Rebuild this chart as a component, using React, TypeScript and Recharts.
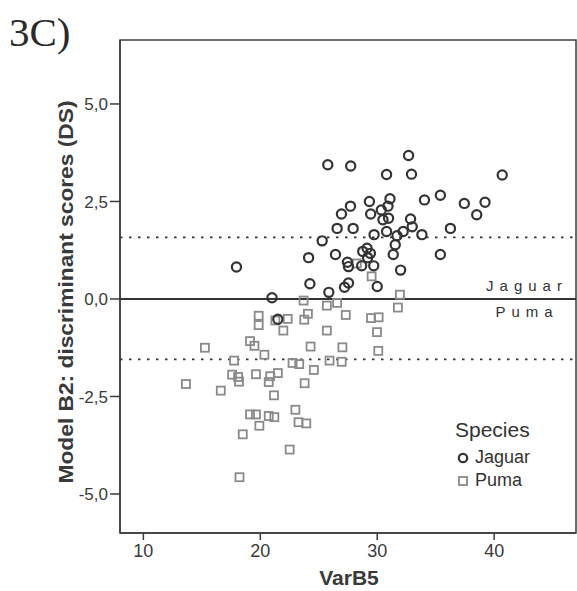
import {
  ScatterChart,
  Scatter,
  XAxis,
  YAxis,
  ReferenceLine,
  ReferenceArea,
  Legend,
  Label,
} from "recharts";

const jaguarX = [
  17.96, 21.0, 24.13, 24.24, 25.29, 25.77, 25.86, 26.43, 26.57, 26.94, 27.2, 27.54, 27.45, 27.54, 27.71,
  27.73, 27.94, 28.67, 28.76, 29.13, 29.33, 29.44, 29.41, 29.18, 29.7, 29.73, 30.0, 30.35, 30.49, 30.8,
  30.8, 30.92, 30.97, 31.09, 31.37, 31.54, 31.69, 32.0, 32.22, 32.68, 32.85, 32.93, 32.99, 33.82, 34.04,
  35.4, 35.4, 36.26, 37.45, 38.51, 39.22, 40.69, 21.5,
];
const jaguarY = [
  0.82, 0.03, 1.06, 0.39, 1.49, 3.44, 0.17, 1.14, 1.81, 2.18, 0.3, 0.41, 0.94, 0.83, 2.38,
  3.41, 1.81, 0.85, 1.22, 1.3, 2.5, 2.18, 1.17, 1.06, 0.85, 1.65, 0.32, 2.28, 2.03, 3.19,
  1.73, 2.38, 2.07, 2.57, 1.14, 1.39, 1.62, 0.74, 1.73, 3.68, 2.05, 3.2, 1.85, 1.65, 2.54,
  2.66, 1.14, 1.81, 2.45, 2.16, 2.48, 3.18, -0.52,
];

const pumaX = [
  23.7, 25.69, 26.57, 31.77, 19.86, 19.86, 21.29, 22.34, 21.97, 23.76, 24.07, 27.31, 29.47, 30.12,
  29.98, 25.69, 15.26, 19.12, 19.5, 20.35, 24.3, 27.02, 30.09, 17.76, 22.76, 23.33, 25.92, 26.96,
  24.58, 17.59, 18.18, 18.1, 19.63, 20.72, 20.85, 21.5, 13.64, 16.62, 23.79, 21.17, 19.12, 19.63,
  20.72, 21.2, 19.92, 23.0, 23.27, 23.93, 18.5, 22.51, 18.22, 29.52, 28.25, 31.94,
];
const pumaY = [
  -0.04, -0.17, -0.1, -0.22, -0.43, -0.67, -0.55, -0.51, -0.81, -0.53, -0.38, -0.41, -0.49, -0.47,
  -0.85, -0.81, -1.25, -1.08, -1.2, -1.43, -1.22, -1.24, -1.33, -1.58, -1.64, -1.67, -1.58, -1.61,
  -1.82, -1.94, -2.12, -2.0, -1.93, -2.13, -1.98, -1.9, -2.18, -2.35, -2.16, -2.47, -2.96, -2.96,
  -3.0, -3.03, -3.25, -2.84, -3.16, -3.19, -3.47, -3.86, -4.57, 0.58, 0.91, 0.11,
];

const xTicks = [10, 20, 30, 40];
const yTicks = [-5, -2.5, 0, 2.5, 5];
const cutoffs = [1.58, -1.55];

const jaguar = jaguarX.map((x, i) => ({ x, y: jaguarY[i] }));
const puma = pumaX.map((x, i) => ({ x, y: pumaY[i] }));

const AXIS = "#3c3c3c";
const SANS = "'Liberation Sans', Arial, sans-serif";

const CircleDot = (props: any) => (
  <circle cx={props.cx} cy={props.cy} r={4.6} fill="none" stroke="#333" strokeWidth={2.2} />
);
const SquareDot = (props: any) => (
  <rect x={props.cx - 4} y={props.cy - 4} width={8} height={8} fill="none" stroke="#8a8a8a" strokeWidth={1.8} />
);

const LegendBox = () => (
  <div style={{ fontFamily: SANS, color: "#333" }}>
    <div style={{ fontSize: 21, marginBottom: 4 }}>Species</div>
    <div style={{ display: "flex", alignItems: "center", fontSize: 18, height: 23 }}>
      <svg width={18} height={14}>
        <circle cx={8} cy={7} r={4.2} fill="none" stroke="#333" strokeWidth={2.2} />
      </svg>
      <span style={{ marginLeft: 2 }}>Jaguar</span>
    </div>
    <div style={{ display: "flex", alignItems: "center", fontSize: 18, height: 23 }}>
      <svg width={18} height={14}>
        <rect x={4} y={3} width={8} height={8} fill="none" stroke="#8a8a8a" strokeWidth={1.8} />
      </svg>
      <span style={{ marginLeft: 2 }}>Puma</span>
    </div>
  </div>
);

const fmt = (v: number) => v.toFixed(1).replace(".", ",");

export default function App() {
  return (
    <div style={{ position: "absolute", left: 0, top: 0, width: 577, height: 591, background: "#fff" }}>
      <div
        style={{
          position: "absolute",
          left: 9,
          top: 8,
          fontFamily: "'Liberation Serif', 'Times New Roman', serif",
          fontSize: 41,
          color: "#2a2a2a",
          lineHeight: "48px",
        }}
      >
        3C)
      </div>
      <ScatterChart width={577} height={591} margin={{ top: 40, right: 1, bottom: 0, left: 0 }}>
        <ReferenceArea x1={8} x2={47} y1={-6} y2={6.64} fill="none" stroke={AXIS} strokeWidth={1.5} strokeOpacity={1} />
        <XAxis
          type="number"
          dataKey="x"
          domain={[8, 47]}
          ticks={xTicks}
          height={58}
          tickSize={7}
          tickMargin={4}
          stroke={AXIS}
          axisLine={{ stroke: AXIS, strokeWidth: 1.5 }}
          tickLine={{ stroke: AXIS, strokeWidth: 1.5 }}
          tick={{ fill: "#3a3a3a", fontSize: 18, fontFamily: SANS }}
          allowDataOverflow
        >
          <Label
            content={() => (
              <text x={349} y={585} textAnchor="middle" fontFamily={SANS} fontWeight="bold" fontSize={21} fill="#3a3a3a">
                VarB5
              </text>
            )}
          />
        </XAxis>
        <YAxis
          type="number"
          dataKey="y"
          domain={[-6, 6.64]}
          ticks={yTicks}
          width={120}
          tickSize={10}
          tickMargin={2}
          tickFormatter={fmt}
          axisLine={{ stroke: AXIS, strokeWidth: 1.5 }}
          tickLine={{ stroke: AXIS, strokeWidth: 1.5 }}
          tick={{ fill: "#3a3a3a", fontSize: 17, fontFamily: SANS }}
          allowDataOverflow
        >
          <Label
            content={() => (
              <text
                x={73}
                y={292}
                transform="rotate(-90 73 292)"
                textAnchor="middle"
                fontFamily={SANS}
                fontWeight="bold"
                fontSize={21}
                fill="#3a3a3a"
                textLength={383}
                lengthAdjust="spacingAndGlyphs"
              >
                Model B2:  discriminant scores (DS)
              </text>
            )}
          />
        </YAxis>
        {cutoffs.map((c) => (
          <ReferenceLine key={c} y={c} stroke="#333" strokeWidth={1.8} strokeDasharray="2.5 6.5" />
        ))}
        <ReferenceLine
          y={0}
          stroke="#333"
          strokeWidth={1.8}
          label={(p: any) => {
            const vb = p.viewBox;
            const cx = vb.x + vb.width - 49;
            return (
              <g fontFamily={SANS} fontSize={15} fill="#333" letterSpacing={6} textAnchor="middle">
                <text x={cx} y={vb.y - 8}>Jaguar</text>
                <text x={cx} y={vb.y + 18}>Puma</text>
              </g>
            );
          }}
        />
        <Scatter name="Puma" data={puma} shape={SquareDot} isAnimationActive={false} />
        <Scatter name="Jaguar" data={jaguar} shape={CircleDot} isAnimationActive={false} />
        <Legend
          layout="horizontal"
          verticalAlign="middle"
          align="center"
          content={() => <LegendBox />}
          wrapperStyle={{ left: 455, top: 418, width: 110 }}
        />
      </ScatterChart>
    </div>
  );
}
